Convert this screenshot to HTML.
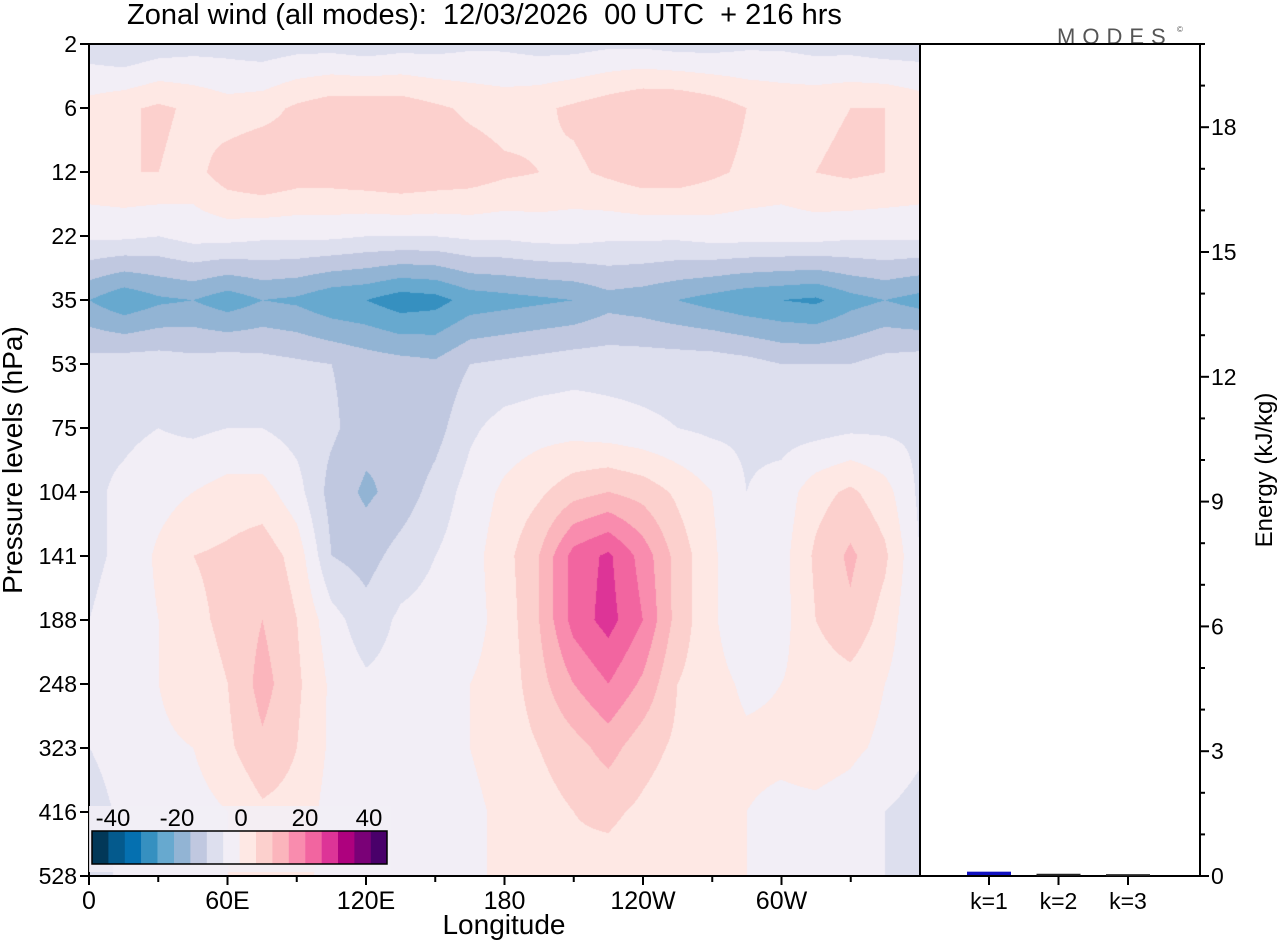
<!DOCTYPE html>
<html><head><meta charset="utf-8"><style>
body{margin:0;background:#fff;width:1280px;height:942px;overflow:hidden;position:relative;font-family:"Liberation Sans",sans-serif}
canvas{position:absolute;left:89px;top:44px}
svg{position:absolute;left:0;top:0}
</style></head><body>
<canvas id="cv" width="831" height="832"></canvas>
<svg id="sv" width="1280" height="942"></svg>
<script>
const levels=["2","6","12","22","35","53","75","104","141","188","248","323","416","528"];
const lonLabels=["0","60E","120E","180","120W","60W"];
const energyTicks=[0,3,6,9,12,15,18];
const modes=["k=1","k=2","k=3"];
const energies=[0.08,0.03,0.02];
const cbLabels=["-40","-20","0","20","40"];
const palette=['#023858','#045a8d','#0570b0','#3690c0','#67a9cf','#92b4d4','#c0c8e0','#dddfee','#f2eef6','#fee8e4','#fcd0cd','#fbb5bc','#f98cae','#f265a0','#dd3497','#ae017e','#7a0177','#49006a'];
const wind=[
[-8,-10,-8,-7,-7,-8,-7,-7,-8,-7,-7,-6,-6,-7,-7,-6,-6,-7,-7,-6,-6,-7,-7,-8,-8],
[2,4,6,4,2,3,6,8,8,8,6,4,3,4,6,8,10,10,8,5,4,4,5,5,3],
[4,5,5,3,8,10,8,8,9,10,9,8,6,5,4,6,8,8,6,4,3,5,6,5,4],
[-4,-4,-5,-3,-3,-4,-4,-4,-5,-5,-5,-4,-4,-3,-3,-4,-4,-4,-3,-3,-3,-3,-4,-4,-4],
[-20,-24,-21,-20,-23,-20,-21,-24,-25,-28,-27,-23,-22,-21,-20,-17,-18,-20,-22,-24,-25,-26,-22,-20,-22],
[-8,-7,-7,-8,-7,-8,-9,-10,-12,-13,-14,-10,-9,-8,-7,-7,-7,-7,-7,-8,-10,-10,-10,-8,-7],
[-6,-6,-5,-6,-5,-5,-7,-9,-13,-15,-12,-6,-3,-2,-2,-3,-4,-5,-6,-6,-7,-7,-6,-6,-6],
[-6,-4,-2,0,2,2,-3,-12,-16,-13,-8,-3,1,4,8,10,8,4,0,-5,-3,3,6,2,-6],
[-6,-4,1,5,6,8,3,-10,-12,-8,-5,-2,3,10,22,26,18,8,1,-5,-2,6,11,6,-5],
[-5,-3,0,4,6,10,5,-3,-8,-4,-3,-2,2,10,22,27,20,8,1,-5,-2,5,9,3,-5],
[-4,-2,0,3,5,12,6,-1,-4,-3,-2,0,2,8,15,20,14,5,2,-1,0,2,3,0,-4],
[-5,-3,-1,0,4,9,5,-1,-3,-2,-1,0,2,5,8,12,7,4,2,1,1,2,1,-1,-4],
[-7,-4,-3,-2,0,4,3,-2,-4,-3,-2,-1,1,3,5,6,4,2,1,0,-1,-1,-2,-5,-7],
[-7,-4,-3,-2,0,3,2,-2,-4,-3,-2,-1,1,2,4,3,2,1,1,0,-1,-2,-3,-5,-7]];
const PX0=89,PX1=920,PY0=44,PY1=876;
const xLon=l=>PX0+(PX1-PX0)*l/360;
const yLev=i=>PY0+(PY1-PY0)*i/(levels.length-1);
const yE=e=>876-e*41.6;
function hex(c){return [parseInt(c.slice(1,3),16),parseInt(c.slice(3,5),16),parseInt(c.slice(5,7),16)];}
const pr=palette.map(hex);
const cv=document.getElementById('cv'),ctx=cv.getContext('2d');
const W=cv.width,H=cv.height,img=ctx.createImageData(W,H);
const nc=wind[0].length-1,nr=wind.length-1;
for(let y=0;y<H;y++){const fy=y/(H-1)*nr,r0=Math.min(nr-1,Math.floor(fy)),ty=fy-r0;
 for(let x=0;x<W;x++){const fx=x/(W-1)*nc,c0=Math.min(nc-1,Math.floor(fx)),tx=fx-c0;
  const v=(wind[r0][c0]*(1-tx)+wind[r0][c0+1]*tx)*(1-ty)+(wind[r0+1][c0]*(1-tx)+wind[r0+1][c0+1]*tx)*ty;
  let i=Math.floor((v+45)/5);i=Math.max(0,Math.min(17,i));const p=pr[i],k=(y*W+x)*4;
  img.data[k]=p[0];img.data[k+1]=p[1];img.data[k+2]=p[2];img.data[k+3]=255;}}
ctx.putImageData(img,0,0);
const sv=document.getElementById('sv'),NS='http://www.w3.org/2000/svg';
function mk(t,a,txt){const e=document.createElementNS(NS,t);for(const k in a)e.setAttribute(k,a[k]);if(txt!=null)e.textContent=txt;sv.appendChild(e);return e;}
let e;
e=mk('text',{x:127,y:24,'font-size':29,fill:'#000'},'Zonal wind (all modes):  12/03/2026  00 UTC  + 216 hrs');
e.setAttribute('style','white-space:pre');


e=mk('text',{x:1057,y:44,'font-size':22,fill:'#555','letter-spacing':'7'},'MODES');


e=mk('text',{x:1177,y:32,'font-size':8,fill:'#555'},'©');


e=mk('rect',{x:PX0,y:PY0,width:1200-PX0,height:PY1-PY0,fill:'none',stroke:'#000','stroke-width':2});


e=mk('line',{x1:920,y1:44,x2:920,y2:876,stroke:'#000','stroke-width':2});


levels.forEach((l,i)=>{const y=yLev(i);
 e=mk('line',{x1:80,y1:y,x2:89,y2:y,stroke:'#000','stroke-width':2});
 
 
 e=mk('text',{x:77,y:y+8,'font-size':23,'text-anchor':'end'},l);
 
 });
lonLabels.forEach((l,i)=>{const x=xLon(i*60);
 e=mk('line',{x1:x,y1:876,x2:x,y2:885,stroke:'#000','stroke-width':2});
 
 
 e=mk('text',{x:x,y:909,'font-size':25,'text-anchor':'middle'},l);
 
 
 const xm=xLon(i*60+30);
 e=mk('line',{x1:xm,y1:876,x2:xm,y2:882,stroke:'#000','stroke-width':2});
 
 });
e=mk('text',{x:504,y:934,'font-size':28,'text-anchor':'middle'},'Longitude');


e=mk('text',{x:0,y:0,'font-size':28,'text-anchor':'middle',transform:'translate(22,460) rotate(-90)'},'Pressure levels (hPa)');


for(let v=0;v<=20;v++){const y=yE(v);if(y<44)break;const maj=v%3===0;
 e=mk('line',{x1:1200,y1:y,x2:maj?1209:1205,y2:y,stroke:'#000','stroke-width':2});
 
 }
energyTicks.forEach(v=>{
 e=mk('text',{x:1211,y:yE(v)+8,'font-size':23},String(v));
 
 });
e=mk('text',{x:0,y:0,'font-size':24,'text-anchor':'middle',transform:'translate(1272,470) rotate(-90)'},'Energy (kJ/kg)');


modes.forEach((m,i)=>{const x=989+i*69.5;
 e=mk('rect',{x:x-22,y:yE(energies[i])-1,width:44,height:Math.max(2,876-yE(energies[i])),fill:i===0?'#1010c0':'#222'});
 
 
 e=mk('line',{x1:x,y1:876,x2:x,y2:885,stroke:'#000','stroke-width':2});
 
 
 e=mk('text',{x:x,y:909,'font-size':23,'text-anchor':'middle'},m);
 
 });
e=mk('rect',{x:89,y:806,width:302,height:66,fill:'#f2eef6',opacity:0.85});


palette.forEach((c,i)=>{
 e=mk('rect',{x:92+i*16.4,y:831,width:16.6,height:33,fill:c});
 
 });
e=mk('rect',{x:92,y:831,width:295,height:33,fill:'none',stroke:'#000','stroke-width':1.5});


cbLabels.forEach((l,i)=>{
 e=mk('text',{x:113+i*64,y:826,'font-size':24,'text-anchor':'middle'},l);
 
 });
</script>
</body></html>
